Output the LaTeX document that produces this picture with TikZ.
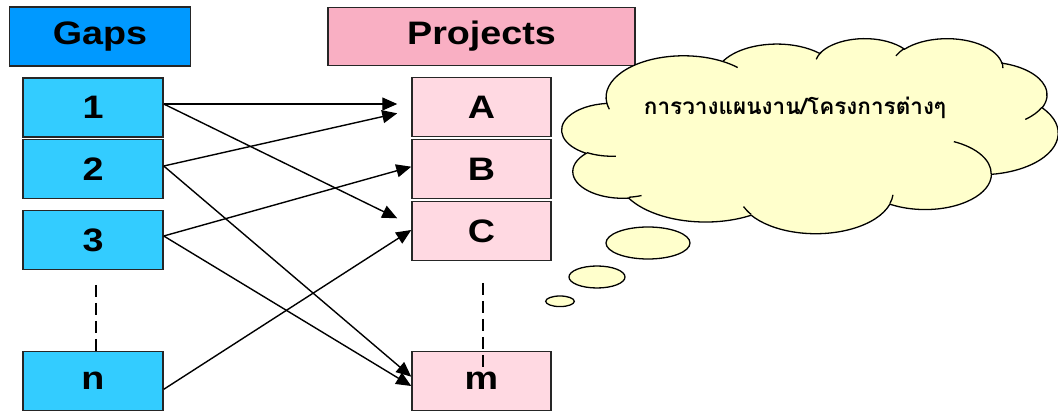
\documentclass[tikz,border=0pt]{standalone}
\usepackage{fontspec}
\setmainfont{Liberation Sans}
\newfontfamily\thaifont[Script=Thai]{Loma}
\usetikzlibrary{arrows.meta}
\definecolor{gaphead}{HTML}{0099FF}
\definecolor{gapfill}{HTML}{33CCFF}
\definecolor{projhead}{HTML}{F9AFC3}
\definecolor{projfill}{HTML}{FFD9E2}
\definecolor{cloudfill}{HTML}{FFFFCC}
\newcommand\wide[1]{\scalebox{1.16}[1]{#1}}
\newcommand\vang[3]{((#3)+mod(atan2((#1)*sin(#3),(#2)*cos(#3))-(#3)+1980,360)-180)}
\newcommand\carc[4]{arc[x radius=#1, y radius=#2, start angle={\vang{#1}{#2}{#3}}, delta angle={\vang{#1}{#2}{(#3)+(#4)}-\vang{#1}{#2}{#3}}]}
\tikzset{
  boxbase/.style={draw=black!85, line width=1.5pt, inner sep=0pt,
    font=\fontsize{32.5}{36}\bfseries\selectfont},
  gaphd/.style={boxbase, fill=gaphead, minimum width=181pt, minimum height=59pt},
  projhd/.style={boxbase, fill=projhead, minimum width=307pt, minimum height=58pt},
  gapbox/.style={boxbase, fill=gapfill, minimum width=140pt, minimum height=59pt},
  projbox/.style={boxbase, fill=projfill, minimum width=139pt, minimum height=59pt},
  arr/.style={line width=1.4pt, -{Triangle[length=15pt,width=13pt]}},
  dsh/.style={line width=1.2pt, dash pattern=on 12pt off 6pt},
  cloudsty/.style={draw=black, line width=1.3pt, fill=cloudfill},
}
\begin{document}
\begin{tikzpicture}[x=1pt,y=-1pt]
\useasboundingbox (0,0) rectangle (1058,411);
% headers
\node[gaphd] (hg) at (100,36.5) {\wide{Gaps}};
\node[projhd] (hp) at (481.5,36.5) {\wide{Projects}};
% gap boxes
\node[gapbox] (g1) at (93,107.5) {\wide{1}};
\node[gapbox] (g2) at (93,169) {\wide{2}};
\node[gapbox] (g3) at (93,240) {\wide{3}};
\node[gapbox] (gn) at (93,381) {\wide{n}};
% project boxes
\node[projbox] (pA) at (481.5,107) {\wide{A}};
\node[projbox] (pB) at (481.5,169) {\wide{B}};
\node[projbox] (pC) at (481.5,231) {\wide{C}};
\node[projbox] (pm) at (481.5,381) {\wide{m}};
% dashed continuation lines
\coordinate (d1) at (96,285);
\draw[dsh] (d1) -- (d1 |- gn.north);
\coordinate (d2) at (483,283);
\coordinate (d3) at (483,368);
\draw[dsh] (d2) -- (d3);
% arrows
\draw[arr] ([yshift=3.5pt]g1.east) -- ([xshift=-14pt,yshift=3pt]pA.west);
\draw[arr] ([yshift=3.5pt]g1.east) -- ([xshift=-14pt,yshift=12.7pt]pC.west);
\draw[arr] ([yshift=3pt]g2.east) -- ([xshift=-14pt,yshift=-6.3pt]pA.west);
\draw[arr] ([yshift=3pt]g2.east) -- ([yshift=4.3pt]pm.west);
\draw[arr] ([yshift=4pt]g3.east) -- ([yshift=2.3pt]pB.west);
\draw[arr] ([yshift=4pt]g3.east) -- ([yshift=-5pt]pm.west);
\draw[arr] ([yshift=-8.3pt]gn.east) -- ([yshift=1pt]pC.west);
% cloud
\begin{scope}[xshift=562pt, yshift=-38pt, x=1.14815pt, y=-0.4514pt]
\filldraw[cloudsty] (39.00,143.70)
  \carc{67.53}{91.90}{-190.4875}{123.7805}
  \carc{53.33}{72.67}{-144.1024}{89.9452}
  \carc{43.65}{59.45}{-145.8079}{99.7230}
  \carc{48.57}{65.95}{-130.9861}{117.2417}
  \carc{53.33}{72.73}{-78.7089}{109.0269}
  \carc{67.75}{92.20}{-46.2673}{130.2690}
  \carc{57.85}{78.67}{0.6250}{114.0333}
  \carc{67.52}{92.15}{22.4516}{115.1726}
  \carc{77.20}{105.43}{66.2426}{75.7110}
  \carc{43.60}{59.18}{-274.9421}{146.7356}
  \carc{43.45}{59.45}{-246.8285}{152.5189}
  -- cycle;
\draw[line width=1.3pt]
  (46.93,261.77) \carc{43.45}{59.45}{86.7420}{26.4295}
  (69.28,348.99) \carc{43.60}{59.18}{73.6105}{11.4475}
  (164.78,390.90) \carc{67.52}{92.15}{137.6242}{14.0811}
  (288.27,347.51) \carc{67.52}{92.15}{6.4533}{15.9984}
  (341.29,229.54) \carc{57.85}{78.67}{-70.2924}{70.9174}
  (417.98,153.54) \carc{53.33}{72.73}{30.3180}{27.7515}
  (383.24,54.26) \carc{48.57}{65.95}{-13.7443}{14.8589}
  (290.78,39.52) \carc{48.57}{65.95}{-149.1815}{18.1954}
  (221.41,47.20) \carc{43.65}{59.45}{-163.4943}{19.0081}
  (140.00,51.92) \carc{67.53}{91.90}{-66.7070}{12.3194}
  (41.27,157.89) \carc{67.53}{91.90}{157.6544}{11.8582};
\end{scope}
\node[font=\thaifont\bfseries\fontsize{22.5}{26}\selectfont, inner sep=0pt] (ct) at (795,108) {การวางแผนงาน/โครงการต่างๆ};
% thought bubbles
\filldraw[cloudsty] (648,243) ellipse[x radius=42, y radius=16];
\filldraw[cloudsty] (597,277) ellipse[x radius=28, y radius=11];
\filldraw[cloudsty] (560,301.3) ellipse[x radius=14.3, y radius=5.3];
\end{tikzpicture}
\end{document}
